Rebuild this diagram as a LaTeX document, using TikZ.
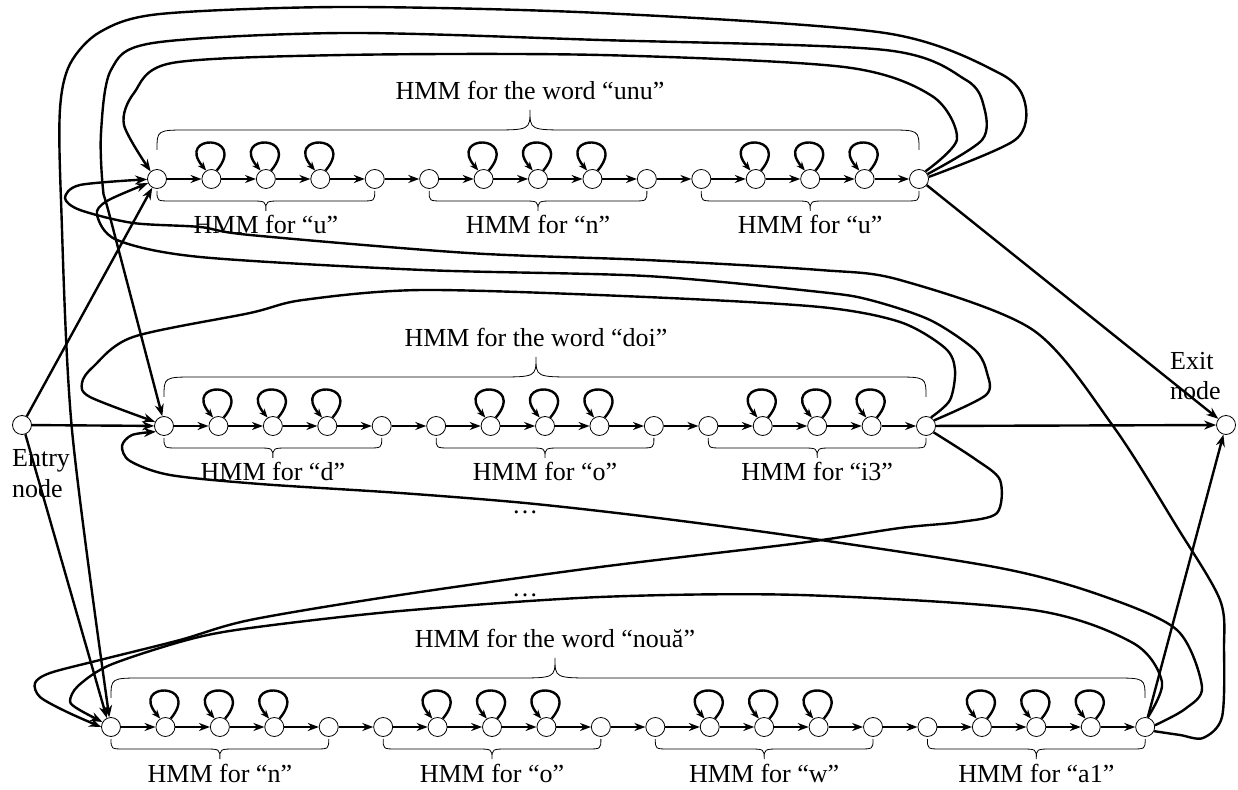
\documentclass[tikz,border=0pt]{standalone}
\usepackage{fontspec}
\setmainfont{Liberation Serif}
\usetikzlibrary{arrows.meta}

\tikzset{
  st/.style={circle, draw, fill=white, line width=0.8pt, minimum size=19pt, inner sep=0pt},
  chain/.style={line width=2.2pt, -{Stealth[length=11pt,width=8pt]}},
  link/.style={line width=2.4pt, -{Stealth[length=12pt,width=9pt]}},
  selfloop/.style={line width=2.4pt, -{Stealth[length=9pt,width=7pt]}},
  brc/.style={line width=0.8pt},
  lbl/.style={font=\fontsize{26}{31}\selectfont, inner sep=0pt},
}

% horizontal curly brace: x1, x2, tip x, base y, half depth (signed), end radius, tip radius
\newcommand{\hbr}[7]{%
  \draw[brc] (#1,#4) .. controls (#1,#4+#5) .. (#1+#6,#4+#5)
    -- (#3-#7,#4+#5) .. controls (#3,#4+#5) .. (#3,#4+2*#5)
    .. controls (#3,#4+#5) .. (#3+#7,#4+#5)
    -- (#2-#6,#4+#5) .. controls (#2,#4+#5) .. (#2,#4);
}

\begin{document}
\begin{tikzpicture}[x=1pt,y=1pt]
\useasboundingbox (0,0) rectangle (1238,789);
\fill[white] (0,0) rectangle (1238,789);

% ---------- states ----------
\foreach \i in {0,...,14} \node[st] (a\i) at ({157+54.43*\i},610) {};
\foreach \i in {0,...,14} \node[st] (b\i) at ({164+54.43*\i},363) {};
\foreach \i in {0,...,19} \node[st] (c\i) at ({111+54.43*\i},62) {};
\node[st] (entry) at (22,364) {};
\node[st] (exit) at (1226,364) {};

\node[lbl, anchor=base west] (entrylbla) at (12,322) {Entry};
\node[lbl, anchor=base west] (entrylblb) at (12,291) {node};
\node[lbl, anchor=base west] (exitlbla) at (1170,419) {Exit};
\node[lbl, anchor=base west] (exitlblb) at (1170,389) {node};

% ---------- left-to-right chains ----------
\foreach \r/\n in {a/13,b/13,c/18} {
  \foreach \i in {0,...,\n} {
    \pgfmathtruncatemacro{\j}{\i+1}
    \draw[chain] (\r\i) -- (\r\j);
  }
}

% ---------- self loops ----------
\foreach \r/\lst in {a/{1,2,3,6,7,8,11,12,13}, b/{1,2,3,6,7,8,11,12,13}, c/{1,2,3,6,7,8,11,12,13,16,17,18}} {
  \foreach \i in \lst {
    \draw[selfloop] (\r\i.58) .. controls +(50:48) and +(130:48) .. (\r\i.122);
  }
}

% ---------- phone braces and labels ----------
\foreach \k/\t in {0/u,1/n,2/u} {
  \pgfmathsetmacro{\xa}{157+54.43*5*\k}
  \pgfmathsetmacro{\xb}{\xa+54.43*4}
  \pgfmathsetmacro{\xm}{\xa+54.43*2}
  \hbr{\xa}{\xb}{\xm}{598}{-10}{14}{16}
  \node[lbl, anchor=base] (pa\k) at (\xm,555) {HMM for “\t”};
}
\foreach \k/\t in {0/d,1/o,2/i3} {
  \pgfmathsetmacro{\xa}{164+54.43*5*\k}
  \pgfmathsetmacro{\xb}{\xa+54.43*4}
  \pgfmathsetmacro{\xm}{\xa+54.43*2}
  \hbr{\xa}{\xb}{\xm}{351}{-10}{14}{16}
  \node[lbl, anchor=base] (pb\k) at (\xm,308) {HMM for “\t”};
}
\foreach \k/\t in {0/n,1/o,2/w,3/a1} {
  \pgfmathsetmacro{\xa}{111+54.43*5*\k}
  \pgfmathsetmacro{\xb}{\xa+54.43*4}
  \pgfmathsetmacro{\xm}{\xa+54.43*2}
  \hbr{\xa}{\xb}{\xm}{50}{-10}{14}{16}
  \node[lbl, anchor=base] (pc\k) at (\xm,7) {HMM for “\t”};
}

% ---------- word braces and labels ----------
\hbr{157}{919}{530}{639}{20}{32}{40}
\node[lbl, anchor=base] (wa) at (530,689) {HMM for the word “unu”};
\hbr{164}{926}{536}{392}{20}{32}{40}
\node[lbl, anchor=base] (wb) at (536,442) {HMM for the word “doi”};
\hbr{111}{1145}{555}{91}{20}{32}{40}
\node[lbl, anchor=base] (wc) at (555,141) {HMM for the word “nouă”};

\node[lbl] (dotsa) at (525,277) {…};
\node[lbl] (dotsb) at (525,194) {…};

% ---------- entry and exit ----------
\draw[link] (entry) -- (a0);
\draw[link] (entry) -- (b0);
\draw[link] (entry.-70) -- (c0.115);
\draw[link] (a14) -- (exit);
\draw[link] (b14) -- (exit);
\draw[link] (c19) -- (exit);

% ---------- word-to-word transitions ----------
% end of "unu"
\draw[link] plot[smooth] coordinates {(a14.50) (957,650) (932,693) (844,722) (600,734) (344,734) (172,726) (134,696) (124,664) (a0.130)};
\draw[link] plot[smooth] coordinates {(a14.30) (982,649) (984,682) (966,709) (885,739) (600,749) (344,756) (153,746) (111,719) (101,656) (103,600) (110,572) (b0.100)};
\draw[link] plot[smooth] coordinates {(a14.12) (1015,649) (1025,686) (999,716) (885,756) (600,776) (344,782) (160,775) (100,757) (70,725) (60,680) (61,589) (72,359) (c0.100)};

% end of "doi"
\draw[link] plot[smooth] coordinates {(b14.35) (986,394) (987,416) (975,439) (930,469) (870,489) (820,497) (646,513) (423,519) (200,532) (117,549) (97,574) (107,588) (a0.205)};
\draw[link] plot[smooth] coordinates {(b14.60) (950,389) (955,419) (945,441) (900,467) (820,482) (646,492) (423,499) (303,489) (250,476) (133,452) (93,422) (82,406) (90,392) (b0.155)};
\draw[link] plot[smooth] coordinates {(b14.-40) (975,330) (1000,309) (997,276) (960,267) (900,261) (800,246) (600,222) (400,194) (250,169) (180,149) (100,129) (50,116) (35,106) (40,92) (67,77) (c0.180)};

% end of "nouă"
\draw[link] plot[smooth] coordinates {(c19.-25) (1180,54) (1203,51) (1222,72) (1224,139) (1220,189) (1177,262) (1113,363) (1033,459) (900,509) (820,519) (646,529) (468,536) (250,554) (200,562) (133,566) (80,579) (65,591) (80,604) (a0.182)};
\draw[link] plot[smooth] coordinates {(c19.10) (1185,80) (1202,102) (1177,159) (1100,194) (1000,221) (800,252) (650,272) (525,286) (400,296) (260,305) (170,314) (130,328) (122,343) (132,354) (b0.215)};
\draw[link] plot[smooth] coordinates {(c19.75) (1162,107) (1133,146) (1033,179) (800,194) (600,192) (400,178) (250,161) (187,149) (110,124) (78,103) (70,88) (78,80) (c0.150)};
\end{tikzpicture}
\end{document}
